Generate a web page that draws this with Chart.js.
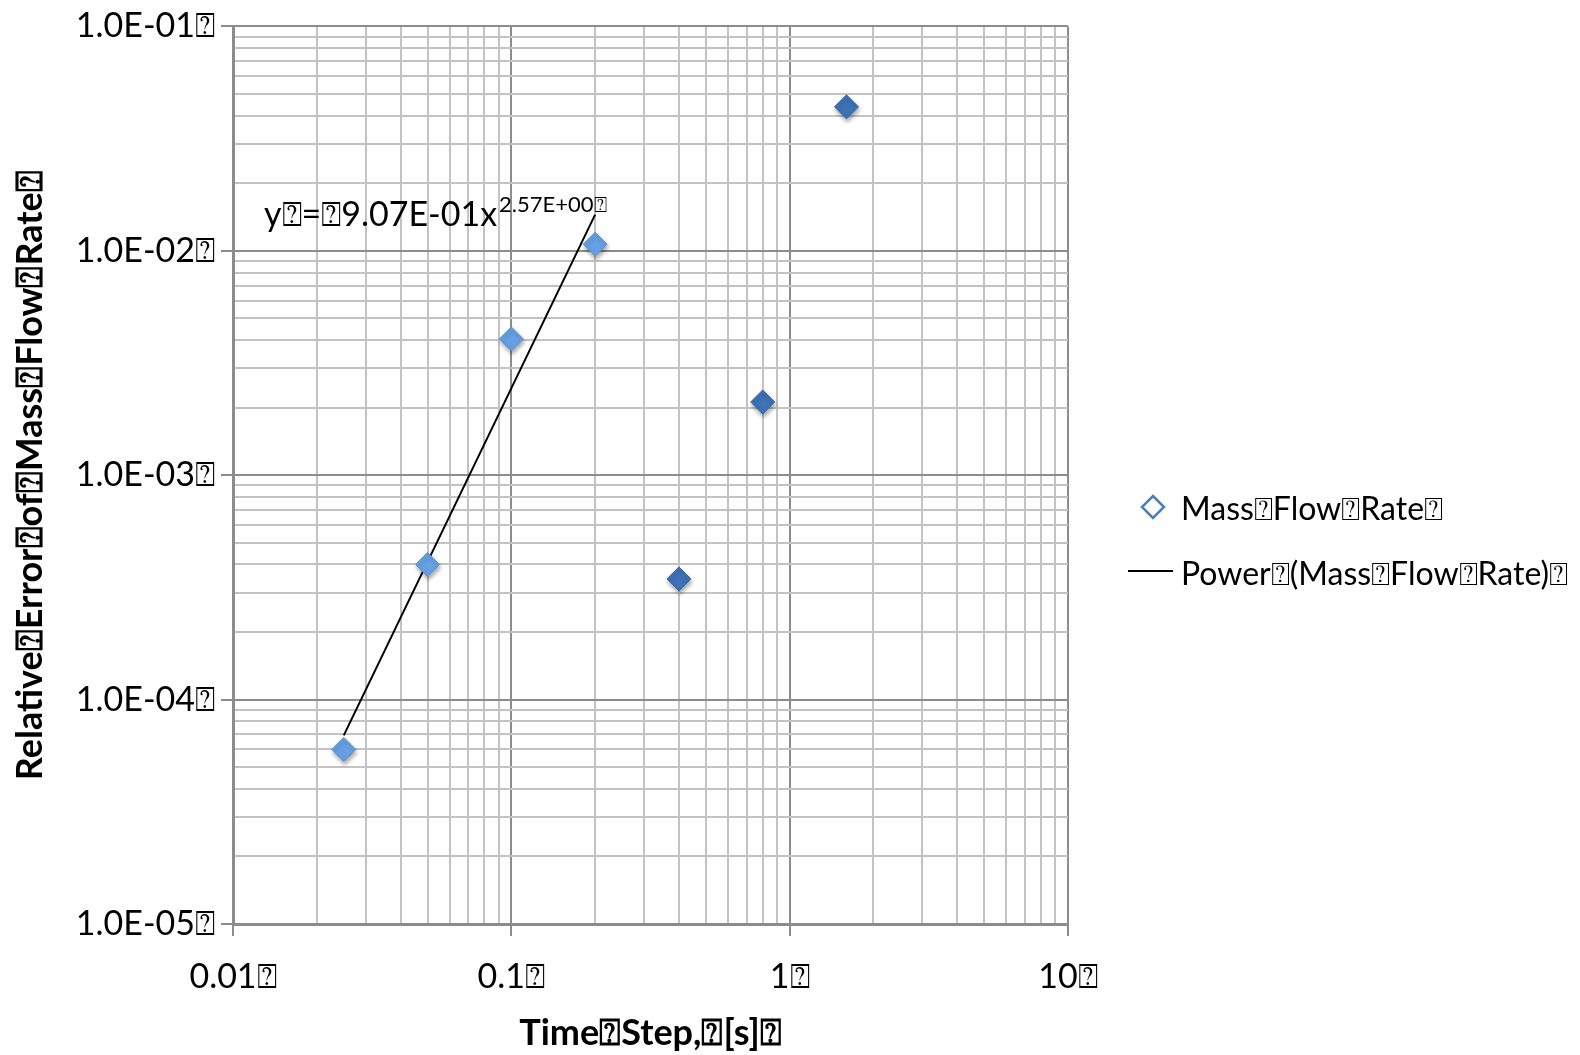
<!DOCTYPE html>
<html>
<head>
<meta charset="utf-8">
<script src="https://cdn.jsdelivr.net/npm/chart.js@4/dist/chart.umd.min.js"></script>
<style>
  html, body { margin: 0; padding: 0; background: #fff; }
  #wrap { width: 1580px; height: 1055px; }
</style>
</head>
<body>
<div id="wrap"><canvas id="errChart"></canvas></div>
<script>
// time step [s] and relative error of the mass flow rate
const timeSteps = [0.025, 0.05, 0.1, 0.2, 0.4, 0.8, 1.6];
const relErrors = [6.0e-5, 4.0e-4, 4.05e-3, 1.07e-2, 3.45e-4, 2.12e-3, 4.38e-2];

// power fit over the first four points: y = a * x^b
const fitCount = 4;
const fitA = 0.907;
const fitB = 2.57;
const fitLabel = "y\u2370=\u23709.07E-01x";
const fitExpLabel = "2.57E+00\u2370";

const xMajors = [0.01, 0.1, 1, 10];
const xTickLabels = ["0.01\u2370", "0.1\u2370", "1\u2370", "10\u2370"];
const yMajors = [1e-5, 1e-4, 1e-3, 1e-2, 1e-1];
const yTickLabels = ["1.0E-05\u2370", "1.0E-04\u2370", "1.0E-03\u2370", "1.0E-02\u2370", "1.0E-01\u2370"];

const seriesName = "Mass\u2370Flow\u2370Rate\u2370";
const trendName = "Power\u2370(Mass\u2370Flow\u2370Rate)\u2370";

const FONT = "Lato, 'Open Sans', sans-serif";
const majorGrid = "#8c8c8c";
const minorGrid = "#c3c3c3";

function isMajor(v) {
  const l = Math.log10(v);
  return Math.abs(l - Math.round(l)) < 1e-9;
}

// 1..9 per decade, like a spreadsheet log axis
function decadeTicks(scale) {
  const lo = Math.round(Math.log10(scale.min));
  const hi = Math.round(Math.log10(scale.max));
  const ticks = [];
  for (let e = lo; e < hi; e++) {
    for (let m = 1; m <= 9; m++) {
      ticks.push({ value: Number((m * Math.pow(10, e)).toPrecision(6)) });
    }
  }
  ticks.push({ value: scale.max });
  scale.ticks = ticks;
}

function labelFor(majors, labels) {
  return (v) => {
    const i = majors.findIndex((m) => Math.abs(Math.log10(m) - Math.log10(v)) < 1e-9);
    return i >= 0 ? labels[i] : "";
  };
}

const pointData = timeSteps.map((x, i) => ({ x, y: relErrors[i] }));
const fitXs = [timeSteps[0], timeSteps[fitCount - 1]];
const trendData = fitXs.map((x) => ({ x, y: fitA * Math.pow(x, fitB) }));

// soft drop shadow under the diamonds
const markerShadow = {
  id: "markerShadow",
  beforeDatasetDraw(chart, args) {
    if (args.index !== 0) return;
    const ctx = chart.ctx;
    ctx.save();
    ctx.shadowColor = "rgba(0,0,0,0.35)";
    ctx.shadowBlur = 4;
    ctx.shadowOffsetX = 1;
    ctx.shadowOffsetY = 3;
  },
  afterDatasetDraw(chart, args) {
    if (args.index !== 0) return;
    chart.ctx.restore();
  },
};

// fit equation next to the trend line, plus the legend on the right
const annotations = {
  id: "annotations",
  afterDraw(chart) {
    const ctx = chart.ctx;
    ctx.save();
    ctx.fillStyle = "#000";
    ctx.textBaseline = "alphabetic";
    ctx.textAlign = "left";

    ctx.font = "34px " + FONT;
    ctx.fillText(fitLabel, 264, 226);
    const w = ctx.measureText(fitLabel).width;
    ctx.font = "22px " + FONT;
    ctx.fillText(fitExpLabel, 264 + w + 2, 212);

    // legend
    ctx.font = "32px " + FONT;
    ctx.textBaseline = "middle";
    const dx = 1153, dy = 507, r = 11;
    ctx.strokeStyle = "#4a7ebb";
    ctx.lineWidth = 2.5;
    ctx.beginPath();
    ctx.moveTo(dx, dy - r);
    ctx.lineTo(dx + r, dy);
    ctx.lineTo(dx, dy + r);
    ctx.lineTo(dx - r, dy);
    ctx.closePath();
    ctx.stroke();
    ctx.fillText(seriesName, 1181, 510);

    ctx.strokeStyle = "#000";
    ctx.lineWidth = 2;
    ctx.beginPath();
    ctx.moveTo(1128, 571);
    ctx.lineTo(1173, 571);
    ctx.stroke();
    ctx.fillText(trendName, 1181, 575);
    ctx.restore();
  },
};

Chart.defaults.font.family = FONT;
Chart.defaults.color = "#000";

new Chart(document.getElementById("errChart").getContext("2d"), {
  type: "scatter",
  data: {
    datasets: [
      {
        label: seriesName,
        data: pointData,
        pointStyle: "rectRot",
        pointRadius: 12,
        pointHoverRadius: 12,
        pointBackgroundColor: (ctx) => (ctx.dataIndex < fitCount ? "#67a0e2" : "#3e72b6"),
        pointBorderColor: (ctx) => (ctx.dataIndex < fitCount ? "#5b93d6" : "#3565a6"),
        pointBorderWidth: 1,
        showLine: false,
        order: 1,
      },
      {
        label: trendName,
        data: trendData,
        showLine: true,
        borderColor: "#000",
        borderWidth: 2,
        pointRadius: 0,
        fill: false,
        order: 2,
      },
    ],
  },
  options: {
    responsive: true,
    maintainAspectRatio: false,
    animation: false,
    layout: { padding: { left: 0, top: 23, right: 512, bottom: 0 } },
    plugins: {
      legend: { display: false },
      tooltip: { enabled: false },
    },
    scales: {
      x: {
        type: "logarithmic",
        min: 0.01,
        max: 10,
        afterBuildTicks: decadeTicks,
        afterFit: (scale) => { scale.height = 131; },
        border: { color: majorGrid, width: 3 },
        grid: {
          color: (ctx) => (isMajor(ctx.tick.value) ? majorGrid : minorGrid),
          lineWidth: 2,
          tickLength: 12,
          tickColor: (ctx) => (isMajor(ctx.tick.value) ? majorGrid : "rgba(0,0,0,0)"),
        },
        ticks: {
          autoSkip: false,
          maxRotation: 0,
          padding: 21,
          font: { size: 34 },
          callback: labelFor(xMajors, xTickLabels),
        },
        title: {
          display: true,
          text: "Time\u2370Step,\u2370[s]\u2370",
          font: { size: 36, weight: "bold" },
          padding: { top: 0, bottom: 0 },
        },
      },
      y: {
        type: "logarithmic",
        min: 1e-5,
        max: 0.1,
        afterBuildTicks: decadeTicks,
        afterFit: (scale) => { scale.width = 233; },
        border: { color: majorGrid, width: 3 },
        grid: {
          color: (ctx) => (isMajor(ctx.tick.value) ? majorGrid : minorGrid),
          lineWidth: 2,
          tickLength: 12,
          tickColor: (ctx) => (isMajor(ctx.tick.value) ? majorGrid : "rgba(0,0,0,0)"),
        },
        ticks: {
          autoSkip: false,
          padding: 6,
          font: { size: 34 },
          callback: labelFor(yMajors, yTickLabels),
        },
        title: {
          display: true,
          text: "Relative\u2370Error\u2370of\u2370Mass\u2370Flow\u2370Rate\u2370",
          font: { size: 36, weight: "bold" },
          padding: { top: 9, bottom: 0 },
        },
      },
    },
  },
  plugins: [markerShadow, annotations],
});
</script>
</body>
</html>
